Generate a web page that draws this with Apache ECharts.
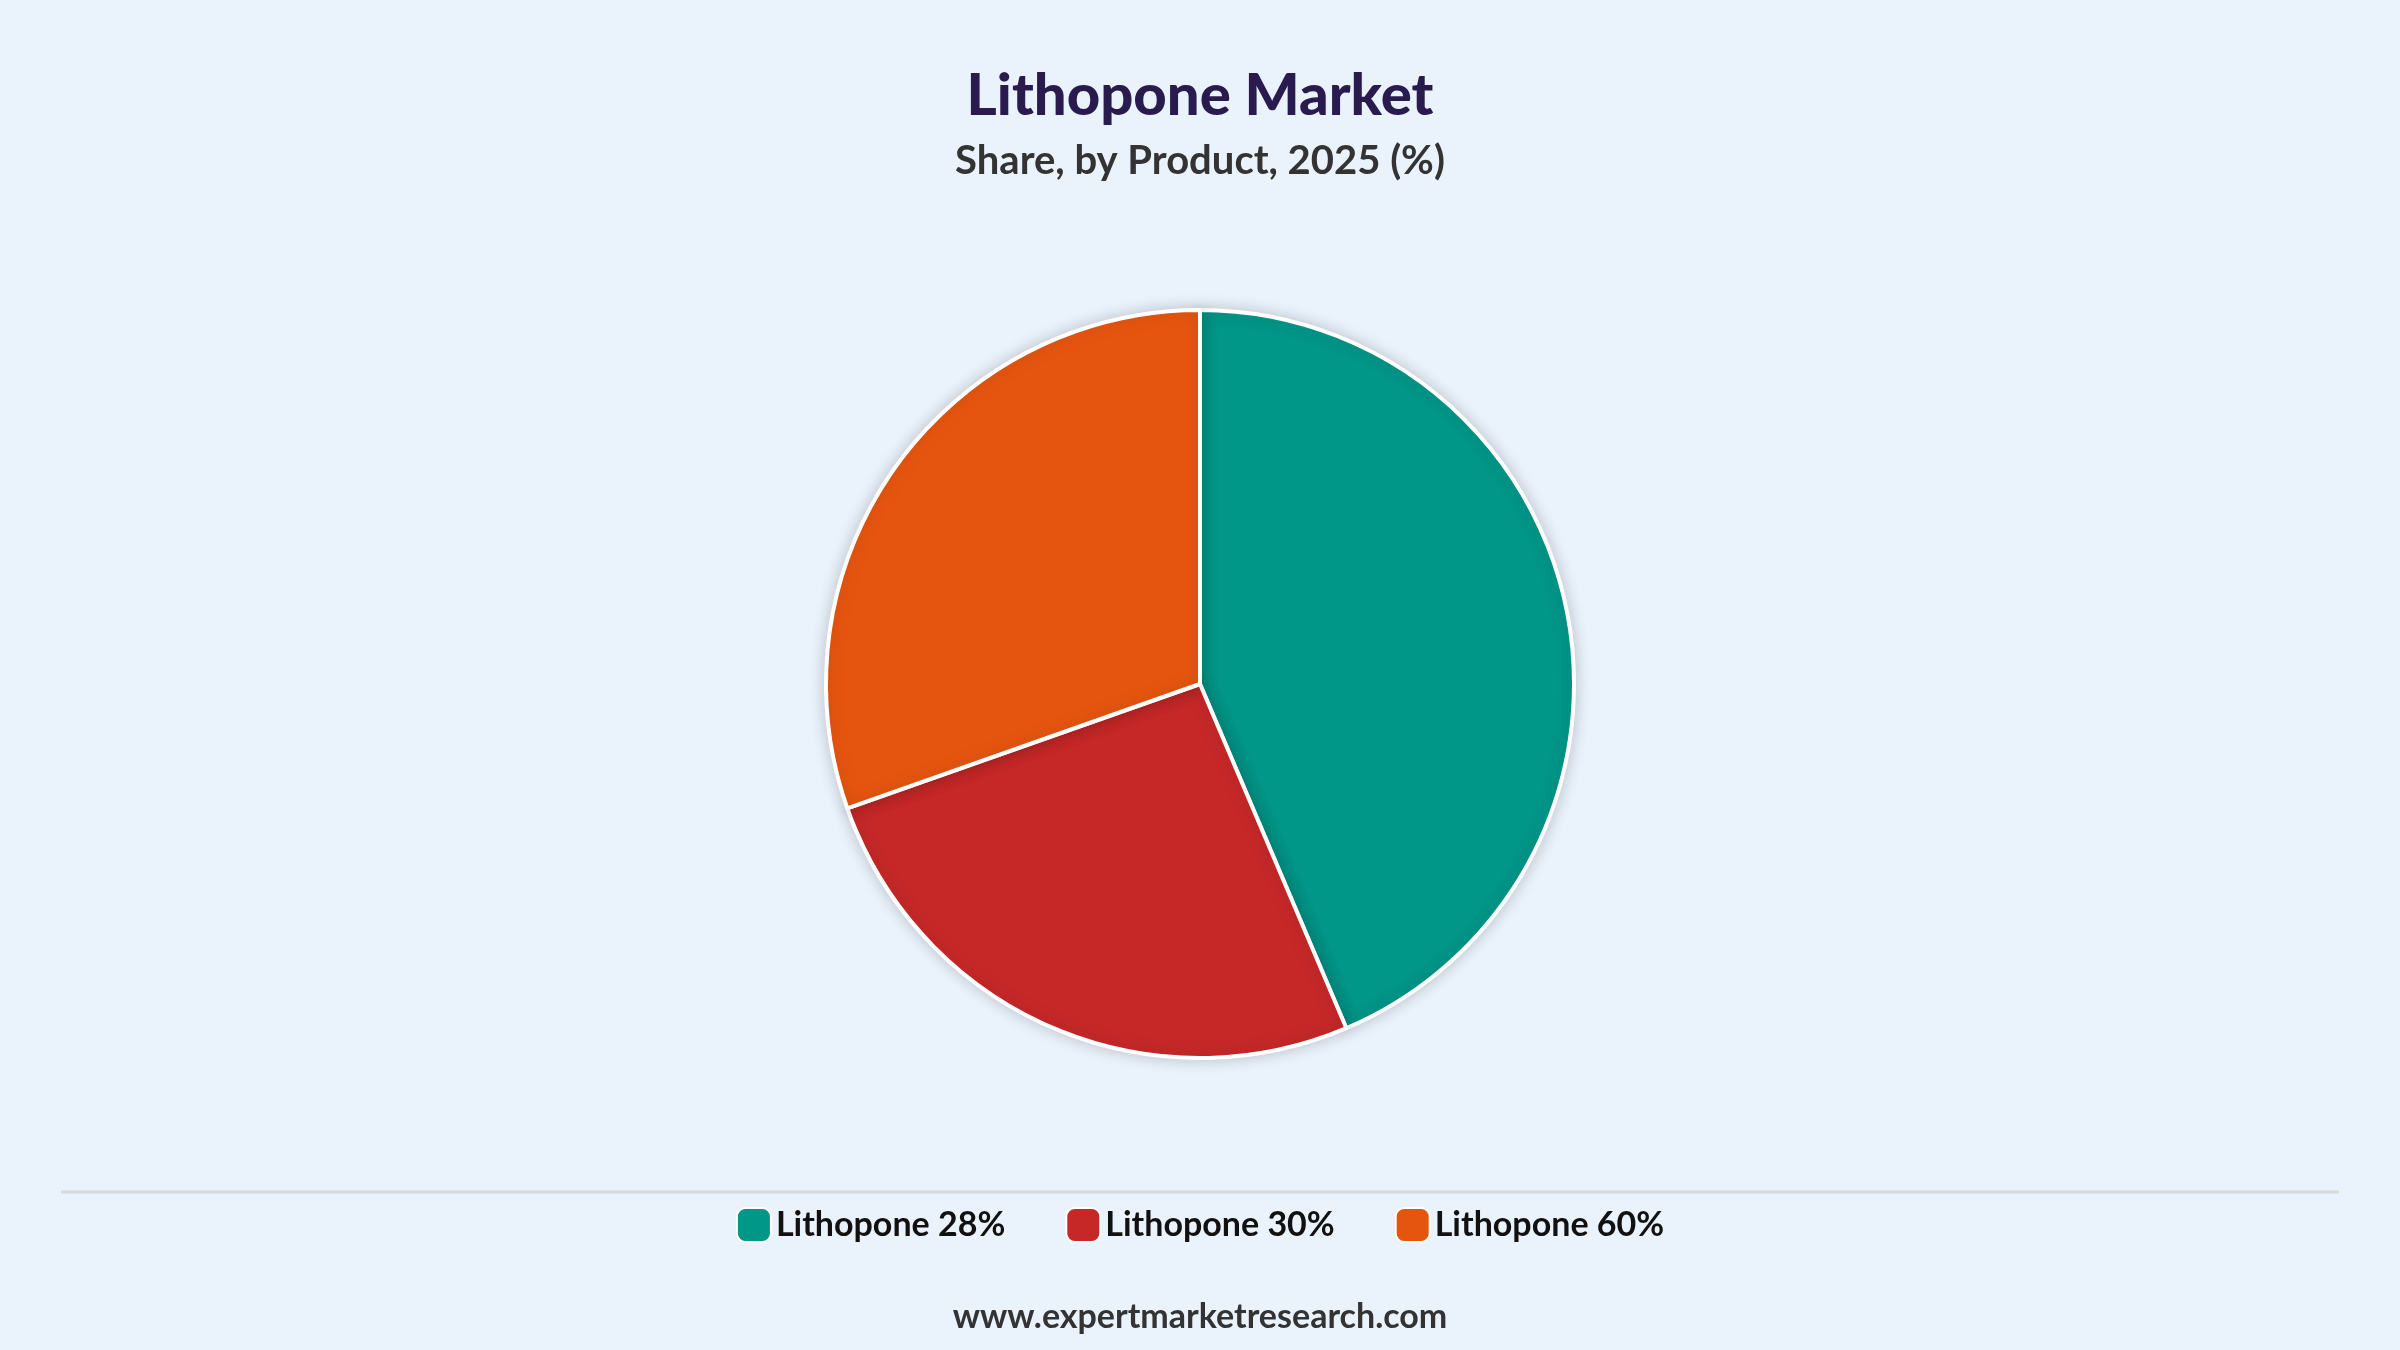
<!DOCTYPE html>
<html><head><meta charset="utf-8">
<script src="https://cdn.jsdelivr.net/npm/echarts@6/dist/echarts.min.js"></script>
<style>html,body{margin:0;padding:0;background:#EAF2FB}#c{width:2400px;height:1350px}</style>
</head><body><div id="c"></div>
<script>
const categories = ['Lithopone 28%', 'Lithopone 30%', 'Lithopone 60%'];
const values = [43.6, 26.0, 30.4];
const colors = ['#009688', '#C62828', '#E65510'];
const chart = echarts.init(document.getElementById('c'));
chart.setOption({
  backgroundColor: '#EAF2FB',
  title: {
    text: 'Lithopone Market', subtext: 'Share, by Product, 2025 (%)',
    left: 'center', top: 62, itemGap: 16,
    textStyle: {fontFamily: 'Lato', fontWeight: 900, fontSize: 58, color: '#2A1B4F'},
    subtextStyle: {fontFamily: 'Lato', fontWeight: 'bold', fontSize: 40, color: '#333333'}
  },
  legend: {
    bottom: 102, left: 'center', itemWidth: 34, itemHeight: 34, itemGap: 60,
    icon: 'roundRect',
    textStyle: {fontFamily: 'Lato', fontWeight: 'bold', fontSize: 34, color: '#111111'},
    data: categories
  },
  graphic: [
    {type: 'line', shape: {x1: 61, y1: 1192, x2: 2339, y2: 1192}, style: {stroke: '#D8D8D8', lineWidth: 3}},
    {type: 'text', left: 'center', top: 1300, style: {text: 'www.expertmarketresearch.com', font: 'bold 34px Lato', fill: '#333333'}}
  ],
  series: [{
    type: 'pie', center: [1200, 684], radius: 374, startAngle: 90, clockwise: true,
    label: {show: false}, labelLine: {show: false},
    itemStyle: {borderColor: '#ffffff', borderWidth: 4, shadowBlur: 16, shadowColor: 'rgba(0,0,0,0.18)'},
    data: categories.map((n, i) => ({name: n, value: values[i], itemStyle: {color: colors[i]}}))
  }]
});
</script></body></html>
